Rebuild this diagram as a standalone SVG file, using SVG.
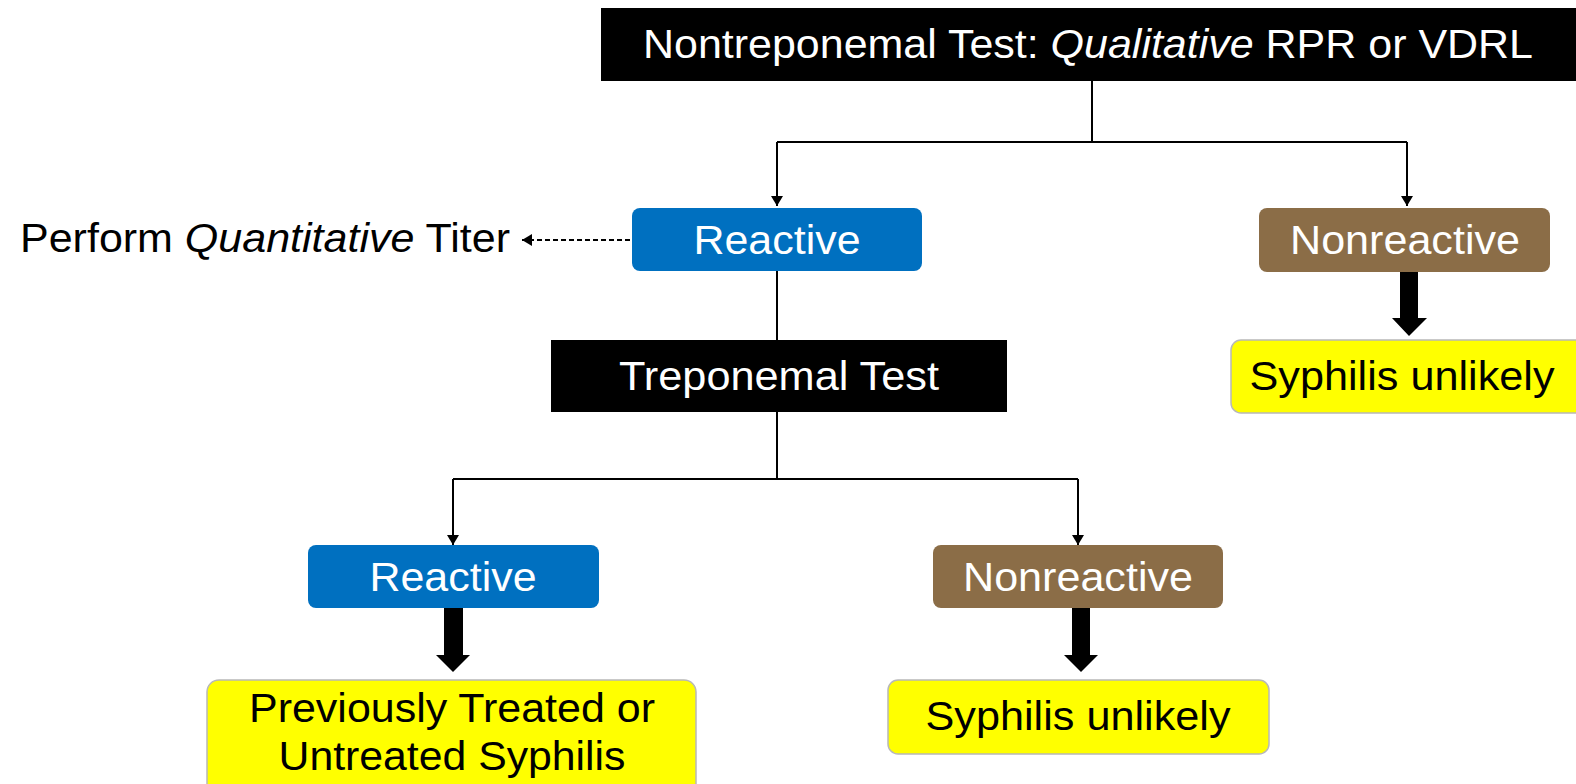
<svg xmlns="http://www.w3.org/2000/svg" width="1576" height="784" viewBox="0 0 1576 784">
<style>
.t{font-family:"Liberation Sans",Arial,sans-serif;font-size:40px}
.w{fill:#fff}
.k{fill:#000}
.blk{fill:#000}
.blue{fill:#0070C0}
.brown{fill:#8B6D47}
.yel{fill:#FFFF00;stroke:#B8B8B8;stroke-width:1.5}
.ln{stroke:#000;stroke-width:2;fill:none}
.dash{stroke:#000;stroke-width:2;fill:none;stroke-dasharray:5 3}
.thick{fill:#000}
</style>
<defs>
<marker id="ah" viewBox="0 0 10 12" refX="10" refY="6" markerWidth="10" markerHeight="12" markerUnits="userSpaceOnUse" orient="auto">
<path d="M0,0 L10,6 L0,12 Z" fill="#000"/>
</marker>
</defs>
<rect width="1576" height="784" fill="#fff"/>
<g id="connectors">
<path class="ln" d="M1092,81 V142 M777,142 H1407"/>
<path class="ln" d="M777,142 V206" marker-end="url(#ah)"/>
<path class="ln" d="M1407,142 V206" marker-end="url(#ah)"/>
<path class="dash" d="M630,240 H522" marker-end="url(#ah)"/>
<path class="ln" d="M777,271 V340"/>
<path class="ln" d="M777,412 V479 M453,479 H1078"/>
<path class="ln" d="M453,479 V545" marker-end="url(#ah)"/>
<path class="ln" d="M1078,479 V545" marker-end="url(#ah)"/>
<path class="thick" d="M1400,272 H1418 V318 H1427 L1409,336 L1392,318 H1400 Z"/>
<path class="thick" d="M444,607 H463 V655 H470 L453,672 L436,655 H444 Z"/>
<path class="thick" d="M1072,607 H1090 V655 H1098 L1081,672 L1064,655 H1072 Z"/>
</g>
<g id="n-top">
<rect class="blk" x="601" y="8" width="990" height="73"/>
<text class="t w" x="1088" y="58" text-anchor="middle" textLength="890" lengthAdjust="spacingAndGlyphs">Nontreponemal Test: <tspan font-style="italic">Qualitative</tspan> RPR or VDRL</text>
</g>
<g id="n-titer">
<text class="t k" x="20" y="252" textLength="490" lengthAdjust="spacingAndGlyphs">Perform <tspan font-style="italic">Quantitative</tspan> Titer</text>
</g>
<g id="n-reactive1">
<rect class="blue" x="632" y="208" width="290" height="63" rx="8"/>
<text class="t w" x="777" y="254" text-anchor="middle" textLength="167" lengthAdjust="spacingAndGlyphs">Reactive</text>
</g>
<g id="n-nonreactive1">
<rect class="brown" x="1259" y="208" width="291" height="64" rx="8"/>
<text class="t w" x="1405" y="254" text-anchor="middle" textLength="230" lengthAdjust="spacingAndGlyphs">Nonreactive</text>
</g>
<g id="n-unlikely1">
<rect class="yel" x="1231" y="340" width="360" height="73" rx="10"/>
<text class="t k" x="1402" y="390" text-anchor="middle" textLength="305" lengthAdjust="spacingAndGlyphs">Syphilis unlikely</text>
</g>
<g id="n-trep">
<rect class="blk" x="551" y="340" width="456" height="72"/>
<text class="t w" x="779" y="390" text-anchor="middle" textLength="320" lengthAdjust="spacingAndGlyphs">Treponemal Test</text>
</g>
<g id="n-reactive2">
<rect class="blue" x="308" y="545" width="291" height="63" rx="8"/>
<text class="t w" x="453" y="591" text-anchor="middle" textLength="167" lengthAdjust="spacingAndGlyphs">Reactive</text>
</g>
<g id="n-nonreactive2">
<rect class="brown" x="933" y="545" width="290" height="63" rx="8"/>
<text class="t w" x="1078" y="591" text-anchor="middle" textLength="230" lengthAdjust="spacingAndGlyphs">Nonreactive</text>
</g>
<g id="n-treated">
<rect class="yel" x="207" y="680" width="489" height="120" rx="12"/>
<text class="t k" x="452" y="722" text-anchor="middle" textLength="406" lengthAdjust="spacingAndGlyphs">Previously Treated or</text>
<text class="t k" x="452" y="770" text-anchor="middle" textLength="347" lengthAdjust="spacingAndGlyphs">Untreated Syphilis</text>
</g>
<g id="n-unlikely2">
<rect class="yel" x="888" y="680" width="381" height="74" rx="10"/>
<text class="t k" x="1078" y="730" text-anchor="middle" textLength="305" lengthAdjust="spacingAndGlyphs">Syphilis unlikely</text>
</g>
</svg>
